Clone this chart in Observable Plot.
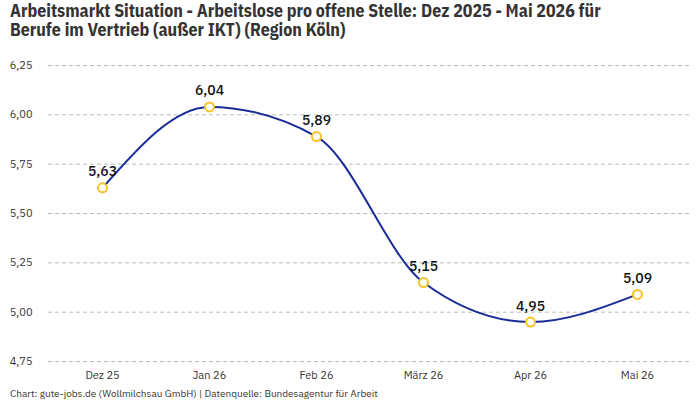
<!DOCTYPE html>
<html>
<head>
<meta charset="utf-8">
<script src="https://cdn.jsdelivr.net/npm/d3@7"></script>
<script src="https://cdn.jsdelivr.net/npm/@observablehq/plot@0.6"></script>
<style>
  html, body { margin: 0; padding: 0; background: #fff; }
  body { width: 700px; height: 400px; overflow: hidden; font-family: "IBM Plex Sans", Roboto, "Noto Sans", sans-serif; }
  .title { position: absolute; left: 10px; font-family: "IBM Plex Sans Condensed", "Liberation Sans Narrow", "DejaVu Sans Condensed", "Roboto", sans-serif; font-stretch: condensed; font-weight: bold; font-size: 17.8px; line-height: 18px; color: #333; white-space: nowrap; }
  #t1 { top: 2px; }
  #t2 { top: 21px; }
  #chart { position: absolute; left: 0; top: 45px; }
  #caption { position: absolute; left: 10px; top: 387px; font-size: 10px; color: #333; }
</style>
</head>
<body>
<div class="title" id="t1">Arbeitsmarkt Situation - Arbeitslose pro offene Stelle: Dez 2025 - Mai 2026 für</div>
<div class="title" id="t2">Berufe im Vertrieb (außer IKT) (Region Köln)</div>
<div id="chart"></div>
<div id="caption">Chart: gute-jobs.de (Wollmilchsau GmbH) | Datenquelle: Bundesagentur für Arbeit</div>
<script>
const months = ["Dez 25", "Jan 26", "Feb 26", "März 26", "Apr 26", "Mai 26"];
const values = [5.63, 6.04, 5.89, 5.15, 4.95, 5.09];
const yTicks = [4.75, 5.00, 5.25, 5.50, 5.75, 6.00, 6.25];

const data = months.map((m, i) => ({month: m, value: values[i]}));
const fmt = v => v.toFixed(2).replace(".", ",");

const plot = Plot.plot({
  width: 700,
  height: 340,
  marginLeft: 48,
  marginRight: 10,
  marginTop: 20,
  marginBottom: 24,
  style: {fontFamily: '"IBM Plex Sans", Roboto, "Noto Sans", sans-serif', fontSize: "11px", color: "#333", background: "#fff"},
  x: {type: "point", domain: months, padding: 0.5, label: null, tickSize: 0, tickPadding: 10},
  y: {domain: [4.75, 6.25], ticks: yTicks, tickFormat: fmt, label: null, tickSize: 0, tickPadding: 16},
  marks: [
    Plot.gridY(yTicks, {stroke: "#bbb", strokeOpacity: 1, strokeDasharray: "4,3"}),
    Plot.axisX({tickSize: 0, tickPadding: 10, fontSize: 11}),
    Plot.axisY({ticks: yTicks, tickFormat: fmt, tickSize: 0, tickPadding: 16, fontSize: 11}),
    Plot.line(data, {x: "month", y: "value", stroke: "#1a2c98", strokeWidth: 2, curve: "monotone-x"}),
    Plot.dot(data, {x: "month", y: "value", r: 4.5, fill: "#fff", stroke: "#f7c325", strokeWidth: 2}),
    Plot.text(data, {x: "month", y: "value", text: d => fmt(d.value), dy: -16, fontSize: 14, fontWeight: 500, fill: "#111"})
  ]
});
document.getElementById("chart").appendChild(plot);
</script>
</body>
</html>
